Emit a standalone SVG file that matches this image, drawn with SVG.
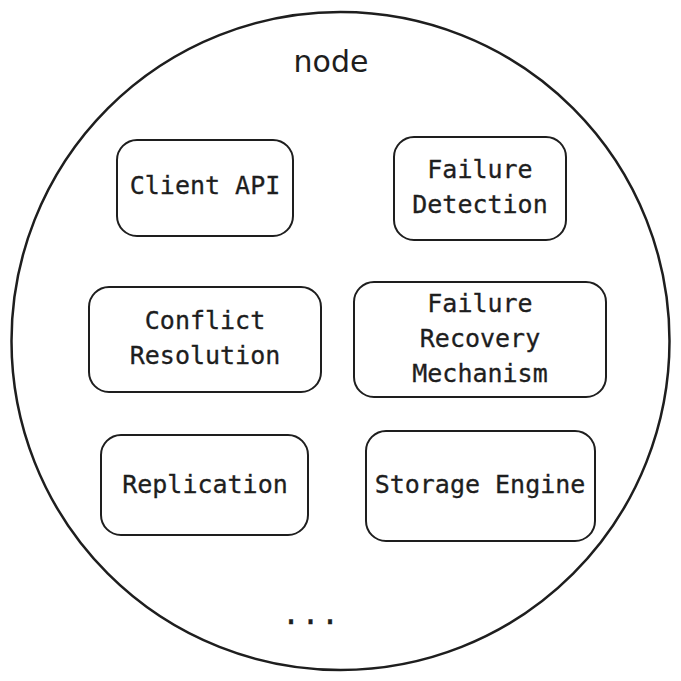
<svg xmlns="http://www.w3.org/2000/svg" width="681" height="681" viewBox="0 0 681 681">
<style>
.box{fill:none;stroke:#1e1e1e;stroke-width:2}
.t{font-family:"DejaVu Sans Mono","Liberation Mono",monospace;font-size:25px;fill:#1e1e1e;text-anchor:middle;stroke:#1e1e1e;stroke-width:0.3}
.title{font-family:"DejaVu Sans","Liberation Sans",sans-serif;font-size:30px;fill:#1e1e1e;text-anchor:middle}
</style>
<rect width="681" height="681" fill="#ffffff"/>
<g id="node">
<circle cx="340.5" cy="341" r="329" fill="none" stroke="#1e1e1e" stroke-width="2.5"/>
<text class="title" x="331" y="72">node</text>
</g>
<g id="client-api">
<rect class="box" x="117" y="140" width="176" height="96" rx="20"/>
<text class="t" x="205" y="194">Client API</text>
</g>
<g id="failure-detection">
<rect class="box" x="394" y="137" width="172" height="103" rx="20"/>
<text class="t" x="480" y="178">Failure</text>
<text class="t" x="480" y="213">Detection</text>
</g>
<g id="conflict-resolution">
<rect class="box" x="89" y="287" width="232" height="105" rx="20"/>
<text class="t" x="205" y="329">Conflict</text>
<text class="t" x="205" y="364">Resolution</text>
</g>
<g id="failure-recovery">
<rect class="box" x="354" y="282" width="252" height="115" rx="20"/>
<text class="t" x="480" y="312">Failure</text>
<text class="t" x="480" y="347">Recovery</text>
<text class="t" x="480" y="382">Mechanism</text>
</g>
<g id="replication">
<rect class="box" x="101" y="435" width="207" height="100" rx="20"/>
<text class="t" x="205" y="493">Replication</text>
</g>
<g id="storage-engine">
<rect class="box" x="366" y="431" width="229" height="110" rx="20"/>
<text class="t" x="480" y="493">Storage Engine</text>
</g>
<g id="ellipsis">
<text class="t" x="282" y="624" style="text-anchor:start;font-size:30px;letter-spacing:1.5px;stroke-width:0.3">...</text>
</g>
<g id="connectors"></g>
</svg>
